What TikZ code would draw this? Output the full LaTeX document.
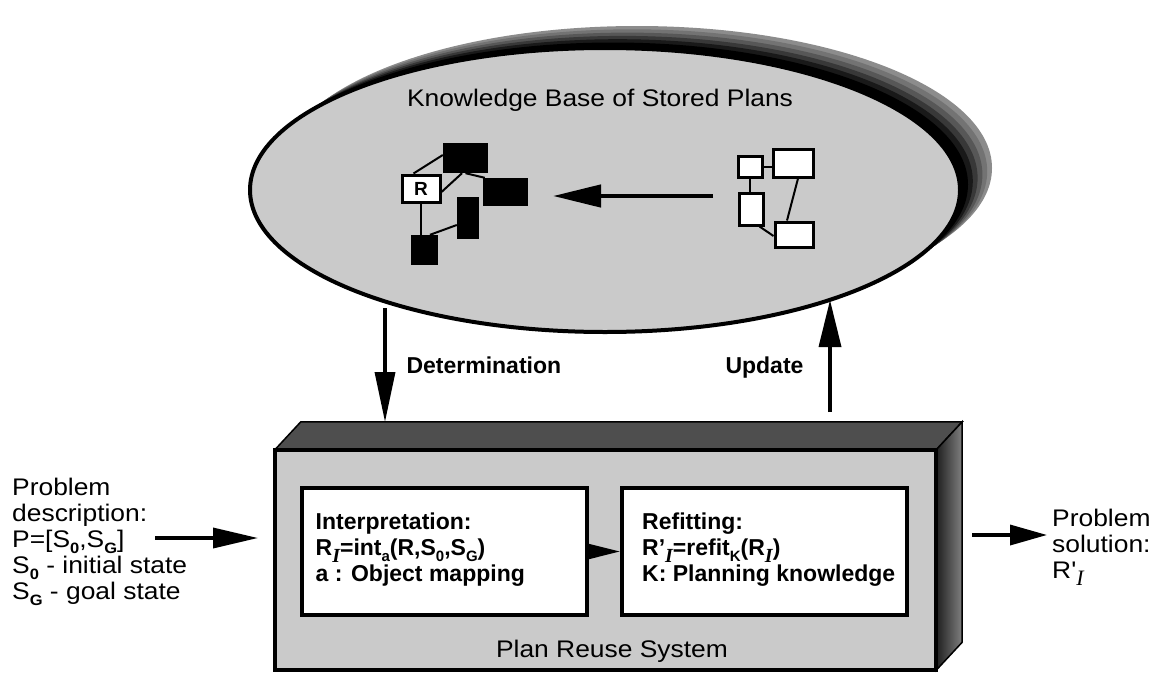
\documentclass[tikz,border=0pt]{standalone}
\usepackage{fontspec}
\setmainfont{Liberation Sans}
\newfontfamily\rg{Liberation Sans}[FakeStretch=1.1]
\newfontfamily\tms{Liberation Serif}
\usetikzlibrary{arrows.meta,shapes.geometric,calc}
\definecolor{ltg}{RGB}{202,202,202}
\definecolor{topg}{RGB}{78,78,78}
\newcommand\lsub[1]{\raisebox{-0.25em}{\fontsize{15}{15}\selectfont #1}}
\newcommand\isub{\raisebox{-0.3em}{\fontsize{20}{20}\selectfont\tms\itshape I}}
\tikzset{
  wbox/.style={draw=black, fill=white, line width=3, inner sep=0, minimum width=#1},
  bbox/.style={fill=black, inner sep=0, minimum width=#1},
  link/.style={line width=2},
  lbl/.style={font=\bfseries\fontsize{23}{23}\selectfont},
  plain/.style={font=\rg\fontsize{24}{26}\selectfont, align=left, inner sep=0},
  inbox/.style={draw=black, line width=4, fill=white, minimum width=285, minimum height=127, inner sep=0},
  intext/.style={font=\bfseries\fontsize{23}{26}\selectfont, align=left, inner sep=0, anchor=west}
}
\begin{document}
\begin{tikzpicture}[x=1pt,y=-1pt]
\useasboundingbox (0,0) rectangle (1161,672);
\fill[white] (0,0) rectangle (1161,672);

% shadow of the knowledge base
\foreach \t/\c in {1/45,0.85/55,0.7/66,0.55/78,0.4/90,0.25/100}
  \fill[black!\c] ({605+32*\t},{190-22*\t}) ellipse [x radius=355, y radius=142];

% knowledge base
\node[ellipse, draw=black, line width=4, fill=ltg, minimum width=710, minimum height=284, inner sep=0] (kb) at (605,190) {};
\node[font=\rg\fontsize{24}{24}\selectfont, anchor=base] (kbt) at (600,106) {Knowledge Base of Stored Plans};

% left plan (retrieved)
\node[wbox=38, minimum height=27, font=\bfseries\fontsize{19}{19}\selectfont] (r) at (421,188.5) {R};
\node[bbox=45, minimum height=30] (tb) at (465.5,158) {};
\node[bbox=45, minimum height=28] (rb) at (505.5,192) {};
\node[bbox=22, minimum height=42] (vb) at (468,218) {};
\node[bbox=27, minimum height=30] (bb) at (424.5,250) {};
\draw[link] ([xshift=13pt]r.north west) -- ([yshift=3pt]tb.west);
\draw[link] ([yshift=-3.5pt]r.east) -- ([xshift=-3.5pt]tb.south);
\draw[link] (tb.south) -- ([xshift=2pt]rb.north west);
\draw[link] (r.south) -- (r.south |- bb.north);
\draw[link] ([xshift=5.5pt]bb.north) -- ([yshift=-7pt]vb.west);

% right plan (stored)
\node[wbox=24, minimum height=21] (pa) at (750,166.5) {};
\node[wbox=40, minimum height=28] (pb) at (793,163) {};
\node[wbox=24, minimum height=32] (pc) at (751,209) {};
\node[wbox=38, minimum height=25] (pd) at (794,234.5) {};
\draw[link] (pa.east) -- (pa.east -| pb.west);
\draw[link] (pa.south) -- (pa.south |- pc.north);
\draw[link] ([xshift=5pt]pb.south) -- ([xshift=-7pt]pd.north);
\draw[link] ([xshift=-5pt]pc.south east) -- ([yshift=-1.5pt]pd.west);

\coordinate (ma) at (713,196);
\coordinate (mb) at (553,196);
\draw[line width=4.5, -{Triangle[length=48pt,width=22pt]}] (ma) -- (mb);

% plan reuse system
\node[fill=ltg, minimum width=661, minimum height=220, inner sep=0] (sys) at (605.5,560) {};
\fill[topg, draw=black, line width=1.5] (sys.north west) -- ++(26,-28) -- ($(sys.north east)+(26,-28)$) -- (sys.north east) -- cycle;
\shade[left color=black!88, right color=black!50, draw=black, line width=1.5] (sys.north east) -- ++(26,-28) -- ($(sys.south east)+(26,-28)$) -- (sys.south east) -- cycle;
\draw[line width=3.5] (sys.north west) rectangle (sys.south east);

\node[inbox] (in1) at (444,551.5) {};
\node[inbox] (in2) at (764.5,551.5) {};
\node[intext] (t1) at ([xshift=16pt,yshift=2pt]in1.west) {Interpretation:\\R\isub=int\lsub{a}(R,S\lsub{0},S\lsub{G})\\a : Object mapping};
\node[intext] (t2) at ([xshift=22pt,yshift=2pt]in2.west) {Refitting:\\R'\isub=refit\lsub{K}(R\isub)\\K: Planning knowledge};
\draw[line width=3, -{Triangle[length=34pt,width=16pt]}] (in1.east) -- (in2.west);

\node[font=\rg\fontsize{24}{24}\selectfont] (prs) at (612,651) {Plan Reuse System};

% vertical arrows
\coordinate (da) at (385,308);
\coordinate (db) at (385,422);
\draw[line width=3.5, -{Triangle[length=50pt,width=20pt]}] (da) -- (db);
\node[lbl, anchor=base west] (detl) at (403,373) {Determination};
\coordinate (ua) at (830,412);
\coordinate (ub) at (830,300);
\draw[line width=3.5, -{Triangle[length=47pt,width=22pt]}] (ua) -- (ub);
\node[lbl, anchor=base east] (updl) at (807,373) {Update};

% input / output
\node[plain, anchor=west] (prob) at (12,542) {Problem\\description:\\P=[S\lsub{\bfseries 0},S\lsub{\bfseries G}]\\S\lsub{\bfseries 0} - initial state\\S\lsub{\bfseries G} - goal state};
\coordinate (la) at (155,538);
\coordinate (lb) at (258,538);
\draw[line width=3.5, -{Triangle[length=45pt,width=20pt]}] (la) -- (lb);

\coordinate (ra) at (972,535);
\coordinate (rb) at (1047,535);
\draw[line width=3.5, -{Triangle[length=37pt,width=20pt]}] (ra) -- (rb);
\node[plain, anchor=west] (sol) at (1052,547) {Problem\\solution:\\R'\raisebox{-0.3em}{\fontsize{22}{22}\selectfont\tms\itshape I}};
\end{tikzpicture}
\end{document}
